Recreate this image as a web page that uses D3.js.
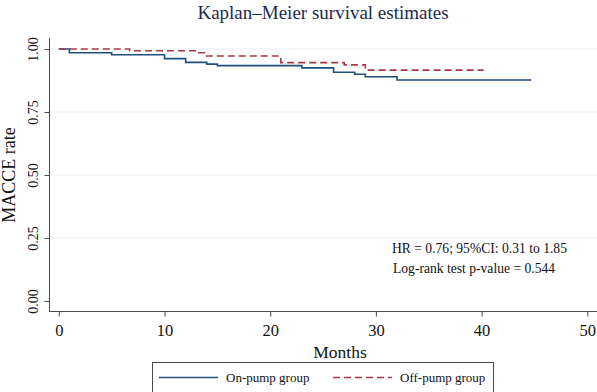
<!DOCTYPE html>
<html>
<head>
<meta charset="utf-8">
<script src="https://cdn.jsdelivr.net/npm/d3@7"></script>
<style>
  body { margin: 0; background: #fff; }
  text { font-family: "Liberation Serif", "Times New Roman", serif; }
</style>
</head>
<body>
<div id="chart-area"></div>
<script>
// Kaplan-Meier step points
const onTimes = [0, 1, 5, 10, 12, 14, 15, 23, 26, 28, 29, 32, 44.7];
const onSurv = [1, 0.985, 0.977, 0.962, 0.947, 0.940, 0.934, 0.925, 0.908, 0.900, 0.890, 0.877, 0.877];
const offTimes = [0, 6.7, 13, 13.8, 21, 27, 29, 40.2];
const offSurv = [1, 0.993, 0.985, 0.972, 0.946, 0.937, 0.916, 0.916];
const xTicks = [0, 10, 20, 30, 40, 50];
const yTicks = [0, 0.25, 0.5, 0.75, 1];
const yGrid = [0.25, 0.5, 0.75, 1];
const seriesNames = ['On-pump group', 'Off-pump group'];
const annotations = ['HR = 0.76; 95%CI: 0.31 to 1.85', 'Log-rank test p-value = 0.544'];

const W = 597, H = 392;
const blue = '#1f4f7d', red = '#a63a42', axisCol = '#4a4a4a';

const svg = d3.select('#chart-area')
  .append('svg')
  .attr('width', W)
  .attr('height', H);

// scales
const x = d3.scaleLinear().domain([0, 50]).range([58.8, 587.3]);
const y = d3.scaleLinear().domain([0, 1]).range([301, 49]);

// title
svg.append('text')
  .attr('x', 323).attr('y', 19)
  .attr('text-anchor', 'middle')
  .attr('font-size', '19px')
  .attr('fill', '#1c2a4f')
  .text('Kaplan–Meier survival estimates');

// grid lines
svg.append('g').selectAll('line')
  .data(yGrid)
  .enter().append('line')
  .attr('x1', 50).attr('x2', W)
  .attr('y1', d => y(d)).attr('y2', d => y(d))
  .attr('stroke', '#eaf2f3')
  .attr('stroke-width', 1.2);

// y axis
const yAxis = svg.append('g')
  .attr('transform', 'translate(49.5,0)')
  .call(d3.axisLeft(y).tickValues(yTicks).tickFormat(d3.format('.2f')).tickSize(5).tickSizeOuter(0));
yAxis.select('.domain').attr('stroke', axisCol).attr('d', 'M0,38V312');
yAxis.selectAll('.tick line').attr('stroke', axisCol);
yAxis.selectAll('.tick text')
  .attr('font-family', '"Liberation Serif", serif')
  .attr('font-size', '14px')
  .attr('fill', '#111')
  .attr('transform', 'rotate(-90)')
  .attr('text-anchor', 'middle')
  .attr('x', 0)
  .attr('y', -12)
  .attr('dy', 0);

// x axis
const xAxis = svg.append('g')
  .attr('transform', 'translate(0,311.5)')
  .call(d3.axisBottom(x).tickValues(xTicks).tickSize(5).tickSizeOuter(0));
xAxis.select('.domain').attr('stroke', axisCol).attr('d', 'M49,0H597');
xAxis.selectAll('.tick line').attr('stroke', axisCol);
xAxis.selectAll('.tick text')
  .attr('font-family', '"Liberation Serif", serif')
  .attr('font-size', '16.5px')
  .attr('fill', '#111')
  .attr('y', 24.5)
  .attr('dy', 0);

// axis titles
svg.append('text')
  .attr('x', 340).attr('y', 358)
  .attr('text-anchor', 'middle')
  .attr('font-size', '17.5px')
  .attr('fill', '#111')
  .text('Months');

svg.append('text')
  .attr('transform', `translate(15,${(y(0) + y(1)) / 2}) rotate(-90)`)
  .attr('text-anchor', 'middle')
  .attr('font-size', '18px')
  .attr('fill', '#111')
  .text('MACCE rate');

// survival curves
const line = d3.line()
  .x(d => x(d[0]))
  .y(d => y(d[1]))
  .curve(d3.curveStepAfter);

const onData = d3.zip(onTimes, onSurv);
const offData = d3.zip(offTimes, offSurv);

svg.append('path')
  .datum(onData)
  .attr('d', line)
  .attr('fill', 'none')
  .attr('stroke', blue)
  .attr('stroke-width', 1.6);

svg.append('path')
  .datum(offData)
  .attr('d', line)
  .attr('fill', 'none')
  .attr('stroke', red)
  .attr('stroke-width', 1.6)
  .attr('stroke-dasharray', '7,4');

// annotations
svg.append('g').selectAll('text')
  .data(annotations)
  .enter().append('text')
  .attr('x', (d, i) => 392 + i)
  .attr('y', (d, i) => 253 + i * 20)
  .attr('font-size', '13.6px')
  .attr('fill', '#111')
  .text(d => d);

// legend
const legend = svg.append('g');
legend.append('rect')
  .attr('x', 152.5).attr('y', 362.5)
  .attr('width', 341).attr('height', 34)
  .attr('fill', '#fff')
  .attr('stroke', axisCol);

const legendItems = [
  { name: seriesNames[0], color: blue, dash: null, x0: 159 },
  { name: seriesNames[1], color: red, dash: '7,4', x0: 333 }
];
legendItems.forEach(it => {
  legend.append('line')
    .attr('x1', it.x0).attr('x2', it.x0 + 59)
    .attr('y1', 377.5).attr('y2', 377.5)
    .attr('stroke', it.color)
    .attr('stroke-width', 1.6)
    .attr('stroke-dasharray', it.dash);
  legend.append('text')
    .attr('x', it.x0 + 67).attr('y', 382)
    .attr('font-size', '13px')
    .attr('fill', '#111')
    .text(it.name);
});
</script>
</body>
</html>
